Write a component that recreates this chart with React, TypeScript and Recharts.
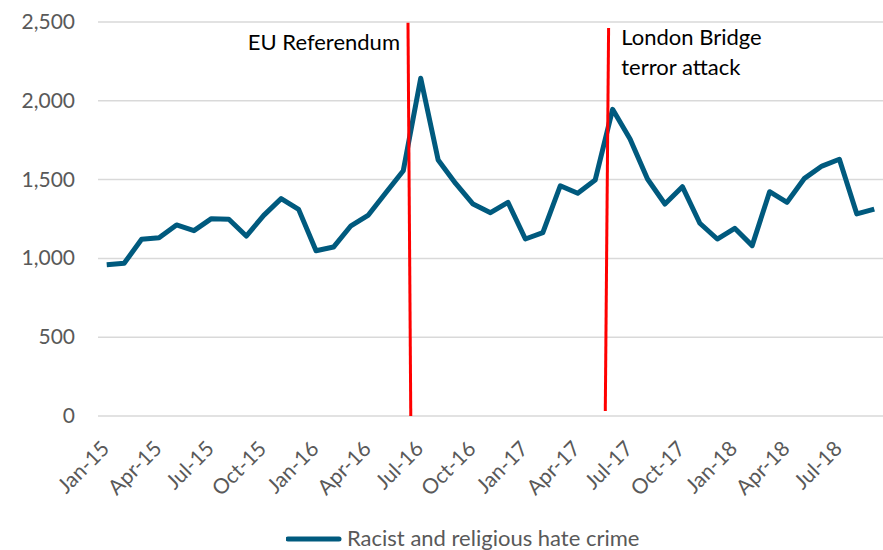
import { LineChart, Line, XAxis, YAxis, CartesianGrid, ReferenceLine, Legend } from 'recharts'

const months = [
  'Jan-15', 'Feb-15', 'Mar-15', 'Apr-15', 'May-15', 'Jun-15', 'Jul-15', 'Aug-15', 'Sep-15', 'Oct-15', 'Nov-15', 'Dec-15',
  'Jan-16', 'Feb-16', 'Mar-16', 'Apr-16', 'May-16', 'Jun-16', 'Jul-16', 'Aug-16', 'Sep-16', 'Oct-16', 'Nov-16', 'Dec-16',
  'Jan-17', 'Feb-17', 'Mar-17', 'Apr-17', 'May-17', 'Jun-17', 'Jul-17', 'Aug-17', 'Sep-17', 'Oct-17', 'Nov-17', 'Dec-17',
  'Jan-18', 'Feb-18', 'Mar-18', 'Apr-18', 'May-18', 'Jun-18', 'Jul-18', 'Aug-18', 'Sep-18'
]

const hateCrime = [
  960, 969, 1121, 1131, 1212, 1176, 1252, 1248, 1142, 1273, 1379, 1311,
  1049, 1072, 1207, 1275, 1417, 1556, 2143, 1624, 1476, 1345, 1290, 1356,
  1123, 1163, 1461, 1413, 1497, 1946, 1758, 1504, 1345, 1455, 1223, 1123,
  1191, 1081, 1423, 1356, 1508, 1586, 1629, 1282, 1313
]

const xTicks = [0, 3, 6, 9, 12, 15, 18, 21, 24, 27, 30, 33, 36, 39, 42]
const yTicks = [0, 500, 1000, 1500, 2000, 2500]

// month index / value positions of the two event markers
const euRefLine = [{ x: 17.27, y: 2495 }, { x: 17.43, y: 0 }]
const londonLine = [{ x: 28.77, y: 2462 }, { x: 28.58, y: 32 }]

const data = months.map((m, i) => ({ idx: i, month: m, value: hateCrime[i] }))

const FONT = 'Lato, "Open Sans", sans-serif'
const BLUE = '#005A7E'
const GREY = '#595959'

function MonthTick (props: any) {
  const { x, y, payload } = props
  const ax = x + 4
  const ay = y + 32
  return (
    <text x={ax} y={ay} transform={`rotate(-45, ${ax}, ${ay})`} textAnchor="end"
      fill={GREY} fontSize={21} fontFamily={FONT}>
      {months[payload.value]}
    </text>
  )
}

function ValueTick (props: any) {
  const { y, payload } = props
  return (
    <text x={75} y={y} dy={7} textAnchor="end" fill={GREY} fontSize={21} fontFamily={FONT}>
      {payload.value.toLocaleString('en-GB')}
    </text>
  )
}

function EuLabel (props: any) {
  const { viewBox } = props
  return (
    <text x={viewBox.x - 8} y={viewBox.y + 27} textAnchor="end" fill="#000" fontSize={22} fontFamily={FONT}>
      EU Referendum
    </text>
  )
}

function LondonLabel (props: any) {
  const { viewBox } = props
  return (
    <text x={viewBox.x + 16} y={viewBox.y + 17} fill="#000" fontSize={22} fontFamily={FONT}>
      <tspan x={viewBox.x + 16}>London Bridge</tspan>
      <tspan x={viewBox.x + 16} dy={30}>terror attack</tspan>
    </text>
  )
}

function LegendBox () {
  return (
    <svg width={400} height={30} style={{ display: 'block' }}>
      <line x1={2} x2={53} y1={15} y2={15} stroke={BLUE} strokeWidth={5} strokeLinecap="round" />
      <text x={61} y={22} fill={GREY} fontSize={22} fontFamily={FONT}>Racist and religious hate crime</text>
    </svg>
  )
}

export default function App () {
  return (
    <div style={{ position: 'absolute', left: 0, top: 0, width: 883, height: 550, background: '#fff' }}>
      <LineChart width={883} height={550} data={data} margin={{ top: 22, right: 0, bottom: 0, left: 0 }}>
        <CartesianGrid vertical={false} stroke="#D9D9D9" strokeWidth={1.5} />
        <XAxis dataKey="idx" type="number" domain={[-0.5, 44.5]} ticks={xTicks} interval={0}
          height={90} tickLine={false} axisLine={false} tickSize={0} tick={<MonthTick />} />
        <YAxis domain={[0, 2500]} ticks={yTicks} width={98} tickLine={false} axisLine={false}
          tick={<ValueTick />} />
        <Line dataKey="value" name="Racist and religious hate crime" stroke={BLUE} strokeWidth={5}
          dot={false} isAnimationActive={false} strokeLinejoin="round" />
        <ReferenceLine segment={euRefLine} stroke="#FF0000" strokeWidth={3} label={<EuLabel />} />
        <ReferenceLine segment={londonLine} stroke="#FF0000" strokeWidth={3} label={<LondonLabel />} />
        <Legend verticalAlign="bottom" height={44} content={<LegendBox />}
          wrapperStyle={{ position: 'absolute', left: 286, top: 524, width: 400 }} />
      </LineChart>
    </div>
  )
}
